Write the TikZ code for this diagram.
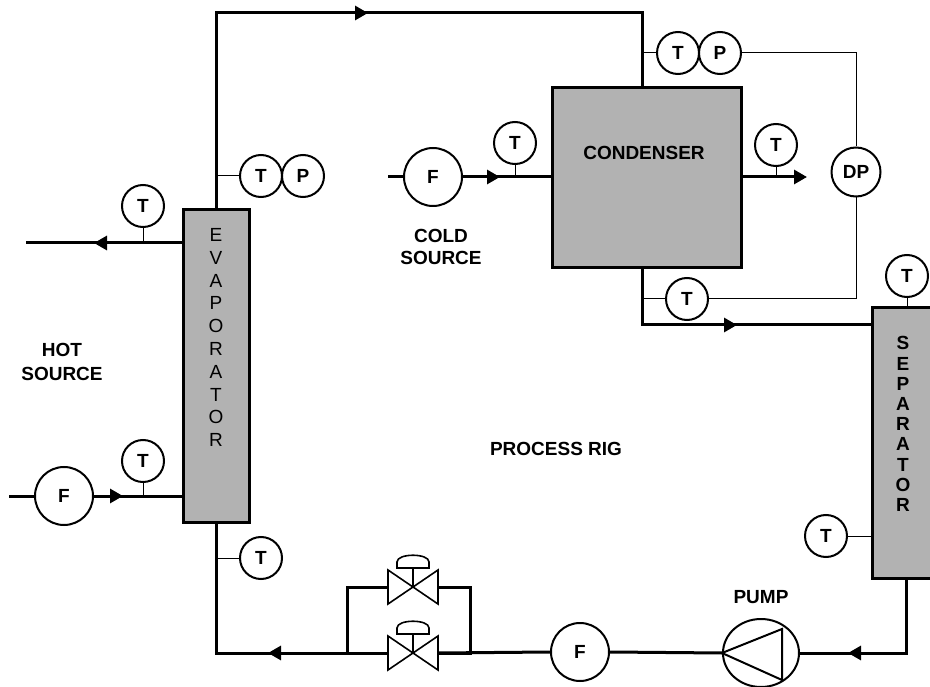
\documentclass[tikz,border=0pt]{standalone}
\usepackage{fontspec}
\setmainfont{Liberation Sans}
\usetikzlibrary{arrows.meta,shapes.geometric}
\begin{document}
\begin{tikzpicture}[x=1pt, y=-1pt,
  every node/.style={font=\bfseries\fontsize{19}{22}\selectfont},
  pipe/.style={line width=3pt},
  tap/.style={line width=1pt},
  flow/.style={line width=3pt, -{Triangle[length=13pt,width=14pt]}},
  inst/.style={circle, draw, line width=2pt, minimum size=42pt, inner sep=0pt},
  meter/.style={circle, draw, line width=2pt, minimum size=58pt, inner sep=0pt},
  vessel/.style={draw, line width=3pt, fill=black!30, inner sep=0pt}]
  \useasboundingbox (0,0) rectangle (930,687);
  % vessels
  \node[vessel, minimum width=66pt, minimum height=312pt] (evap) at (216,366) {};
  \node[align=center, font=\fontsize{19}{22.8}\selectfont] at (216,337.5) {E\\V\\A\\P\\O\\R\\A\\T\\O\\R};
  \node[vessel, minimum width=189pt, minimum height=180pt] (cond) at (646.5,178) {};
  \node at (644,153) {CONDENSER};
  \node[vessel, minimum width=68pt, minimum height=270pt] (sep) at (906,443) {};
  \node[align=center, font=\bfseries\fontsize{19}{20.2}\selectfont] at (903,424) {S\\E\\P\\A\\R\\A\\T\\O\\R};
  \node[ellipse, draw, line width=2pt, minimum width=76pt, minimum height=68pt, inner sep=0pt] (pump) at (761,653) {};
  \draw[line width=2pt] (pump.west) -- (782,629) -- (782,680) -- cycle;
  \node at (761,597) {PUMP};
  % texts
  \node[align=center, font=\bfseries\fontsize{19}{24}\selectfont] at (62,362) {HOT\\SOURCE};
  \node[align=center, font=\bfseries\fontsize{19}{22}\selectfont] at (441,247) {COLD\\SOURCE};
  \node at (556,449) {PROCESS RIG};
  % flow meters
  \node[meter] (fhot) at (64,496) {F};
  \node[meter] (fcold) at (433,177) {F};
  \node[meter] (fret) at (580,652) {F};
  % instruments
  \node[inst] (tHo) at (143,206) {T};
  \node[inst] (tHi) at (143,461) {T};
  \node[inst] (tEv) at (261,176) {T};
  \node[inst] (pEv) at (303,176) {P};
  \node[inst] (tEb) at (261,558) {T};
  \node[inst] (tCt) at (678,53) {T};
  \node[inst] (pCt) at (720,53) {P};
  \node[inst, minimum size=49pt] (dp) at (856,172) {DP};
  \node[inst] (tCb) at (687,299) {T};
  \node[inst] (tCi) at (515,143) {T};
  \node[inst] (tCo) at (776,145) {T};
  \node[inst] (tSt) at (907,276) {T};
  \node[inst] (tSs) at (826,536) {T};
  % pipe corners
  \coordinate (tl) at (216,13);
  \coordinate (tr) at (642,13);
  \coordinate (ctop) at (642,88);
  \coordinate (cbo) at (642,268);
  \coordinate (cbk) at (642,325);
  \coordinate (hout) at (26,243);
  \coordinate (hin) at (9,496);
  \coordinate (cin) at (388,177);
  \coordinate (bl) at (216,653);
  \coordinate (br) at (906,653);
  \coordinate (bvl) at (347,653);
  \coordinate (tvl) at (347,587);
  \coordinate (bvr) at (470,653);
  \coordinate (tvr) at (470,587);
  \coordinate (vtl) at (388,587);
  \coordinate (vtr) at (438,587);
  \coordinate (vbl) at (388,653);
  \coordinate (vbr) at (438,653);
  \coordinate (dpk) at (856,53);
  % main loop
  \draw[pipe] (evap.north) -- (tl) -- (tr) -- (ctop);
  \draw[flow] (tl) -- (368,13);
  \draw[pipe] (cbo) -- (cbk) -- (cbk -| sep.west);
  \draw[flow] (cbk) -- (737,325);
  \draw[pipe] (sep.south) -- (br) -- (pump.east);
  \draw[flow] (br) -- (848,653);
  \draw[pipe] (pump.west) -- (fret.east);
  \draw[pipe] (fret.west) -- (vbr);
  \draw[pipe] (vbr) -- (bvr) -- (tvr) -- (vtr);
  \draw[pipe] (vbl) -- (bvl) -- (tvl) -- (vtl);
  \draw[pipe] (bvl) -- (bl) -- (evap.south);
  \draw[flow] (bvl) -- (268,653);
  % hot and cold sides
  \draw[pipe] (evap.west |- hout) -- (hout);
  \draw[flow] (evap.west |- hout) -- (94,243);
  \draw[pipe] (hin) -- (fhot.west);
  \draw[pipe] (fhot.east) -- (evap.west |- fhot);
  \draw[flow] (fhot.east) -- (123,496);
  \draw[pipe] (cin) -- (fcold.west);
  \draw[pipe] (fcold.east) -- (cond.west |- fcold);
  \draw[flow] (fcold.east) -- (500,177);
  \draw[flow] (cond.east |- fcold) -- (807,177);
  % control valves
  \begin{scope}[shift={(413,587)}]
    \draw[line width=1.6pt, fill=white] (-25,-17) -- (25,17) -- (25,-17) -- (-25,17) -- cycle;
    \draw[line width=1.6pt] (0,0) -- (0,-19);
    \draw[line width=1.6pt] (-16,-19) -- (-16,-25) .. controls (-16,-34) and (16,-34) .. (16,-25) -- (16,-19) -- cycle;
  \end{scope}
  \begin{scope}[shift={(413,653)}]
    \draw[line width=1.6pt, fill=white] (-25,-17) -- (25,17) -- (25,-17) -- (-25,17) -- cycle;
    \draw[line width=1.6pt] (0,0) -- (0,-19);
    \draw[line width=1.6pt] (-16,-19) -- (-16,-25) .. controls (-16,-34) and (16,-34) .. (16,-25) -- (16,-19) -- cycle;
  \end{scope}
  % instrument taps
  \draw[tap] (tHo.south) -- (tHo |- hout);
  \draw[tap] (tHi.south) -- (tHi |- fhot);
  \draw[tap] (tl |- tEv) -- (tEv.west);
  \draw[tap] (bl |- tEb) -- (tEb.west);
  \draw[tap] (tr |- tCt) -- (tCt.west);
  \draw[tap] (pCt.east) -- (dpk) -- (dp.north);
  \draw[tap] (dp.south) -- (dp |- tCb) -- (tCb.east);
  \draw[tap] (cbo |- tCb) -- (tCb.west);
  \draw[tap] (tCi.south) -- (tCi |- fcold);
  \draw[tap] (tCo.south) -- (tCo |- fcold);
  \draw[tap] (tSt.south) -- (tSt |- sep.north);
  \draw[tap] (tSs.east) -- (tSs -| sep.west);
\end{tikzpicture}
\end{document}
